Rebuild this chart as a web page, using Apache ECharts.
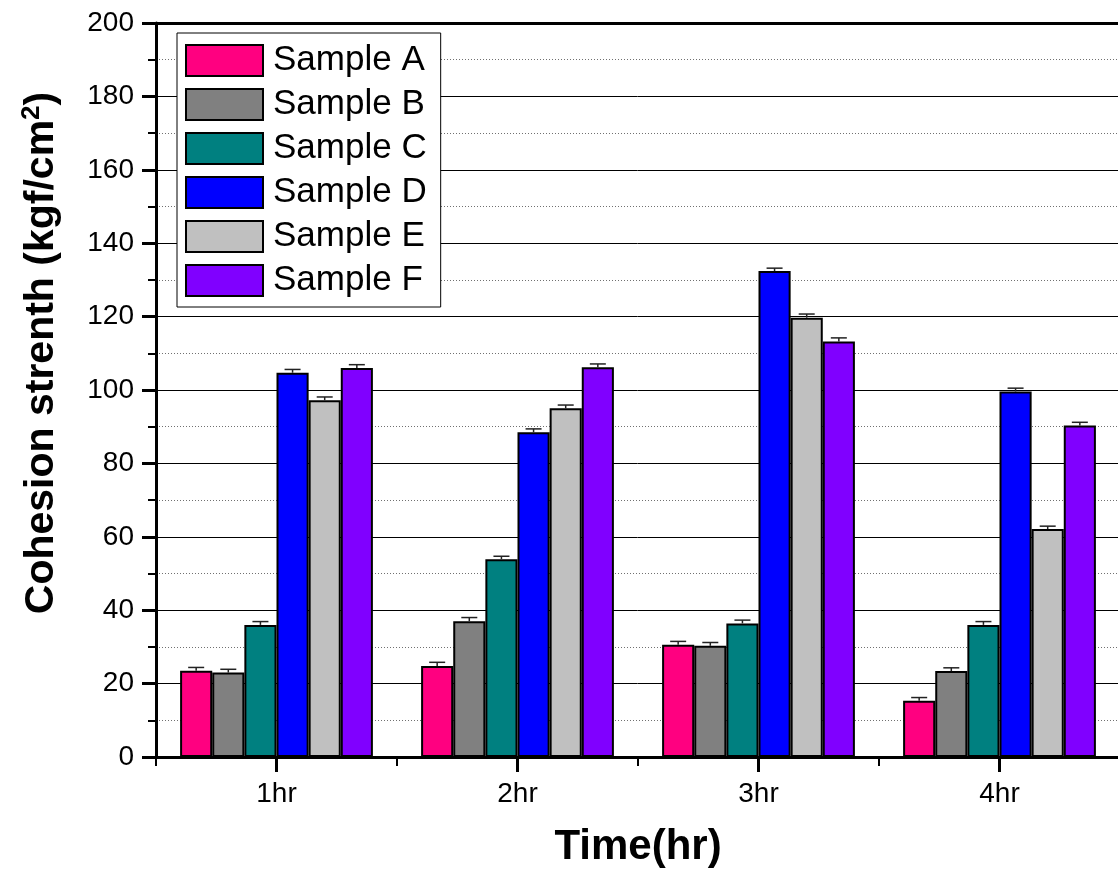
<!DOCTYPE html>
<html><head><meta charset="utf-8">
<script src="https://cdn.jsdelivr.net/npm/echarts@6/dist/echarts.min.js"></script>
<style>html,body{margin:0;padding:0;background:#fff}#c{width:1118px;height:875px}</style>
</head><body><div id="c"></div>
<script>
const categories = ['1hr', '2hr', '3hr', '4hr'];
const seriesNames = ['Sample A', 'Sample B', 'Sample C', 'Sample D', 'Sample E', 'Sample F'];
const colors = ['#FF0080', '#808080', '#008080', '#0000FF', '#C0C0C0', '#8000FF'];
const sampleA = [23.5, 24.8, 30.6, 15.3];
const sampleB = [23.0, 37.0, 30.3, 23.4];
const sampleC = [36.0, 53.9, 36.4, 36.0];
const sampleD = [104.7, 88.5, 132.4, 99.6];
const sampleE = [97.2, 95.0, 119.7, 62.1];
const sampleF = [106.0, 106.2, 113.2, 90.3];
const errA = [0.9, 1.0, 0.9, 0.9];
const errB = [0.9, 1.0, 0.9, 0.9];
const errC = [0.9, 0.8, 0.9, 0.9];
const errD = [0.9, 0.9, 0.8, 0.9];
const errE = [0.9, 0.9, 1.0, 0.8];
const errF = [0.9, 0.9, 1.0, 0.9];
const yTicks = [0, 20, 40, 60, 80, 100, 120, 140, 160, 180, 200];

const values = [sampleA, sampleB, sampleC, sampleD, sampleE, sampleF];
const errs = [errA, errB, errC, errD, errE, errF];

const chart = echarts.init(document.getElementById('c'));
const FONT = 'Liberation Sans, Arial, sans-serif';

const barSeries = seriesNames.map((n, i) => ({
  name: n, type: 'bar', xAxisIndex: 0, yAxisIndex: 0,
  data: values[i],
  barGap: '0%', barCategoryGap: '20%',
  itemStyle: { color: colors[i], borderColor: '#000', borderWidth: 2 },
  z: 2
}));

const errData = [];
values.forEach((arr, s) => arr.forEach((v, c) => errData.push([c, v, errs[s][c], s])));

const errSeries = {
  type: 'custom', name: 'err', xAxisIndex: 0, yAxisIndex: 0,
  data: errData, z: 3, silent: true,
  encode: { x: 0, y: 1 },
  renderItem: function (params, api) {
    const c = api.value(0), v = api.value(1), e = api.value(2), s = api.value(3);
    const base = api.coord([c, v]);
    const top = api.coord([c, v + e]);
    const bw = api.size([1, 0])[0] * 0.8 / 6;
    const cx = base[0] + (s - 2.5) * bw;
    const st = { stroke: '#222', lineWidth: 1.5 };
    return { type: 'group', children: [
      { type: 'line', shape: { x1: cx, y1: base[1], x2: cx, y2: top[1] }, style: st },
      { type: 'line', shape: { x1: cx - 8, y1: top[1], x2: cx + 8, y2: top[1] }, style: st }
    ]};
  }
};

const option = {
  backgroundColor: '#fff',
  animation: false,
  grid: { left: 156, right: -2, top: 23, bottom: 118, containLabel: false, outerBoundsMode: 'none' },
  legend: {
    data: seriesNames.map(n => ({ name: n, icon: 'rect' })), orient: 'vertical', left: 177, top: 33,
    itemWidth: 77, itemHeight: 31, itemGap: 9,
    padding: [10, 14, 9, 8],
    backgroundColor: '#fff', borderColor: '#000', borderWidth: 1,
    itemStyle: { borderColor: '#000', borderWidth: 2 },
    textStyle: { fontFamily: FONT, fontSize: 35, color: '#000', padding: [0, 0, 0, 5] },
    selectedMode: false
  },
  xAxis: [
    { type: 'category', data: categories, position: 'bottom',
      axisLine: { show: true, lineStyle: { color: '#000', width: 3 } },
      axisTick: { show: true, alignWithLabel: true, length: 15, lineStyle: { color: '#000', width: 3 } },
      axisLabel: { fontFamily: FONT, fontSize: 28, color: '#000', margin: 23 },
      splitLine: { show: false },
      name: 'Time(hr)', nameLocation: 'middle', nameGap: 69,
      nameTextStyle: { fontFamily: FONT, fontSize: 42, fontWeight: 'bold', color: '#000' }
    },
    { type: 'category', data: categories, position: 'bottom',
      axisLine: { show: false },
      axisTick: { show: true, alignWithLabel: false, length: 9, lineStyle: { color: '#000', width: 2 } },
      axisLabel: { show: false }, splitLine: { show: false }
    },
    { type: 'category', data: categories, position: 'top',
      axisLine: { show: true, lineStyle: { color: '#000', width: 3 } },
      axisTick: { show: false }, axisLabel: { show: false }, splitLine: { show: false }
    }
  ],
  yAxis: {
    type: 'value', min: 0, max: 200, interval: 20,
    axisLine: { show: true, lineStyle: { color: '#000', width: 3 } },
    axisTick: { show: true, length: 14, lineStyle: { color: '#000', width: 3 } },
    minorTick: { show: true, splitNumber: 2, length: 8, lineStyle: { color: '#000', width: 2 } },
    axisLabel: { fontFamily: FONT, fontSize: 28, color: '#000', margin: 22,
      formatter: function (v) { return yTicks.indexOf(v) >= 0 ? String(v) : ''; } },
    splitLine: { show: true, lineStyle: { color: '#000', width: 1 } },
    minorSplitLine: { show: true, lineStyle: { color: '#707070', width: 1, type: [1, 2] } }
  },
  graphic: [{
    type: 'text', x: 42, y: 353, rotation: Math.PI / 2,
    style: {
      text: '{b|Cohesion strenth (kgf/cm}{s|2}{b|)}',
      align: 'center', verticalAlign: 'middle',
      rich: {
        b: { fontFamily: FONT, fontSize: 41, fontWeight: 'bold', fill: '#000', lineHeight: 46 },
        s: { fontFamily: FONT, fontSize: 26, fontWeight: 'bold', fill: '#000', lineHeight: 46, verticalAlign: 'top' }
      }
    }
  }],
  series: barSeries.concat([errSeries])
};
chart.setOption(option);
</script></body></html>
